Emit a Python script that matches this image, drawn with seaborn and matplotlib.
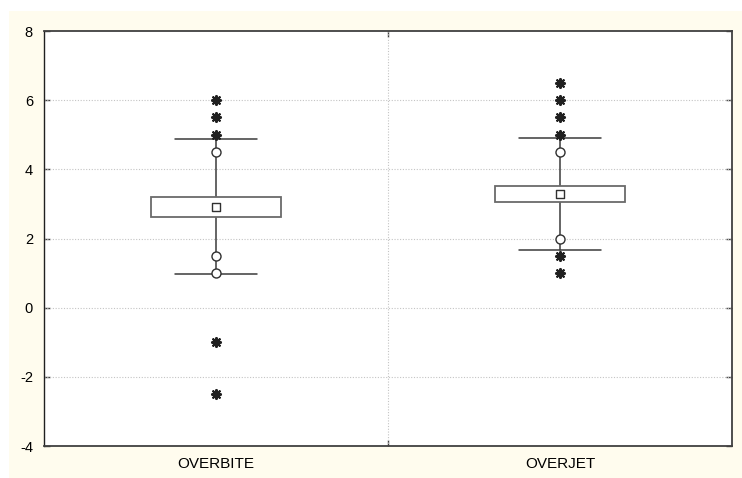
import matplotlib
matplotlib.use("Agg")
import matplotlib.pyplot as plt
import seaborn as sns
import pandas as pd
from matplotlib.patches import Rectangle
from matplotlib.ticker import FixedLocator

# ---- data ----
categories = ["OVERBITE", "OVERJET"]
box_low = [2.63, 3.05]
box_high = [3.21, 3.53]
box_center = [2.92, 3.29]
whisker_low = [0.97, 1.66]
whisker_high = [4.87, 4.92]

outlier_cat = ["OVERBITE", "OVERBITE", "OVERBITE", "OVERJET", "OVERJET"]
outlier_val = [4.5, 1.5, 1.0, 4.5, 2.0]

extreme_cat = ["OVERBITE", "OVERBITE", "OVERBITE", "OVERBITE", "OVERBITE",
               "OVERJET", "OVERJET", "OVERJET", "OVERJET", "OVERJET", "OVERJET"]
extreme_val = [6.0, 5.5, 5.0, -1.0, -2.5,
               6.5, 6.0, 5.5, 5.0, 1.5, 1.0]

y_ticks = [-4, -2, 0, 2, 4, 6, 8]

# ---- style ----
sns.set_style("white")
plt.rcParams['font.family'] = ['Liberation Sans', 'DejaVu Sans']

fig = plt.figure(figsize=(7.42, 4.78), dpi=100)
fig.patch.set_facecolor("white")
bg = Rectangle((9 / 742, 0), 1 - 9 / 742, (478 - 11) / 478,
               transform=fig.transFigure, facecolor="#FFFCEE",
               edgecolor="none", zorder=-10)
fig.add_artist(bg)

ax = fig.add_axes([44 / 742, 32 / 478, (732 - 44) / 742, (446 - 31) / 478])
ax.set_zorder(1)
ax.set_facecolor("white")

positions = list(range(len(categories)))
stats = []
for i, c in enumerate(categories):
    stats.append(dict(label=c, med=box_center[i], q1=box_low[i], q3=box_high[i],
                      whislo=whisker_low[i], whishi=whisker_high[i], fliers=[]))

line_col = "#3a3a3a"
ax.bxp(stats, positions=positions, widths=0.38, capwidths=0.24,
       showfliers=False, patch_artist=True,
       boxprops=dict(facecolor="white", edgecolor="#6a6a6a", linewidth=1.3, zorder=3),
       whiskerprops=dict(color=line_col, linewidth=1.1, zorder=2),
       capprops=dict(color=line_col, linewidth=1.1, zorder=2),
       medianprops=dict(linewidth=0, color="none"))

df_center = pd.DataFrame({"cat": categories, "val": box_center})
df_out = pd.DataFrame({"cat": outlier_cat, "val": outlier_val})
df_ext = pd.DataFrame({"cat": extreme_cat, "val": extreme_val})

sns.stripplot(data=df_center, x="cat", y="val", order=categories, jitter=False,
              marker="s", size=5.5, color="white", edgecolor="#303030", linewidth=1.0,
              ax=ax, zorder=5)
sns.stripplot(data=df_out, x="cat", y="val", order=categories, jitter=False,
              marker="o", size=6.5, color="white", edgecolor="#303030", linewidth=1.0,
              ax=ax, zorder=5)
sns.stripplot(data=df_ext, x="cat", y="val", order=categories, jitter=False,
              marker=(8, 2, 0), size=6.5, color="#202020", edgecolor="#202020",
              linewidth=1.5, ax=ax, zorder=5)

ax.set_xlim(-0.5, len(categories) - 0.5)
ax.set_ylim(-4, 8)
ax.set_yticks(y_ticks)
ax.set_yticklabels([str(t) for t in y_ticks], fontsize=10.5)
ax.set_xticks(positions)
ax.set_xticklabels(categories, fontsize=11)
ax.xaxis.set_minor_locator(FixedLocator([0.5]))
ax.set_xlabel("")
ax.set_ylabel("")

ax.tick_params(axis="y", which="major", direction="in", length=4, width=1,
               left=True, right=True, pad=8, colors="#404040", labelcolor="black")
ax.tick_params(axis="x", which="major", length=0, pad=8, labelcolor="black")
ax.tick_params(axis="x", which="minor", direction="in", length=4, width=1,
               top=True, bottom=True, colors="#404040")

for y in y_ticks[1:-1]:
    ax.axhline(y, color="#c4c4c4", linestyle=(0, (1, 1.5)), linewidth=0.8, zorder=1)
ax.axvline(0.5, color="#c4c4c4", linestyle=(0, (1, 1.5)), linewidth=0.8, zorder=1)

for side in ["left", "right", "top", "bottom"]:
    ax.spines[side].set_visible(True)
    ax.spines[side].set_color("#404040")
    ax.spines[side].set_linewidth(1.3)
ax.spines["left"].set_color("#202020")
ax.spines["left"].set_linewidth(1.0)

fig.savefig("out.png", dpi=100, facecolor=fig.get_facecolor())
